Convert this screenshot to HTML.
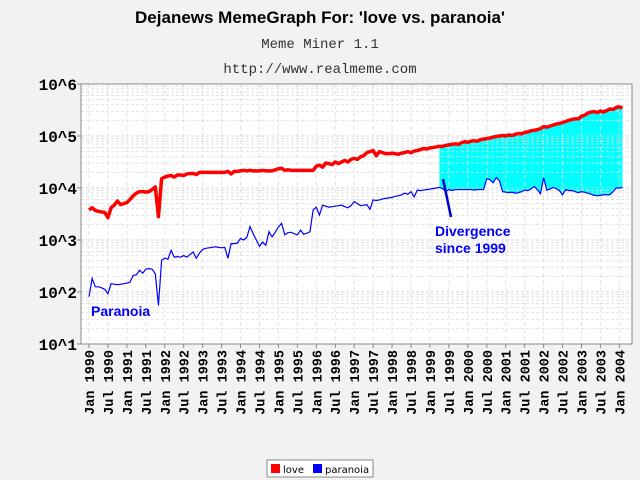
<!DOCTYPE html>
<html><head><meta charset="utf-8"><style>
body{margin:0;background:#f2f2f2;}
svg{display:block;}
</style></head><body>
<svg id="chart" width="640" height="480" xmlns="http://www.w3.org/2000/svg">
<rect x="0" y="0" width="640" height="480" fill="#f2f2f2"/>
<text x="320" y="23" text-anchor="middle" font-family="Liberation Sans, sans-serif" font-weight="bold" font-size="17" fill="#000">Dejanews MemeGraph For: 'love vs. paranoia'</text>
<text x="320" y="48" text-anchor="middle" font-family="Liberation Mono, monospace" font-size="14" fill="#333">Meme Miner 1.1</text>
<text x="320" y="73" text-anchor="middle" font-family="Liberation Mono, monospace" font-size="14" fill="#333">http://www.realmeme.com</text>
<rect x="81" y="84" width="551" height="260" fill="#fff"/>
<g id="fill"></g><g id="grid"></g><g id="series"></g><g id="axes"></g>
<text x="91" y="316" font-family="Liberation Sans, sans-serif" font-weight="bold" font-size="14" fill="#0000ff">Paranoia</text>
<line x1="443" y1="179" x2="451" y2="217" stroke="#0000cc" stroke-width="2.5"/>
<text x="435" y="236" font-family="Liberation Sans, sans-serif" font-weight="bold" font-size="14" fill="#0000ff"><tspan x="435">Divergence</tspan><tspan x="435" dy="17">since 1999</tspan></text>
<g>
<rect x="267" y="460" width="106" height="17" fill="#fff" stroke="#888"/>
<rect x="271" y="464" width="9" height="9" fill="#ff0000"/>
<text x="283" y="473" font-family="DejaVu Sans, sans-serif" font-size="10" fill="#000">love</text>
<rect x="313" y="464" width="9" height="9" fill="#0000ff"/>
<text x="325" y="473" font-family="DejaVu Sans, sans-serif" font-size="10" fill="#000">paranoia</text>
</g>
</svg>
<script>
// log10 monthly values, Jan 1990 .. Feb 2004
const loveLog = [
3.58,3.62,3.57,3.55,3.54,3.53,3.43,3.62,3.67,3.75,3.68,3.70,
3.72,3.78,3.85,3.90,3.93,3.93,3.92,3.93,3.97,4.02,3.45,4.18,
4.21,4.23,4.24,4.21,4.25,4.25,4.24,4.27,4.28,4.28,4.26,4.30,
4.30,4.30,4.30,4.30,4.30,4.30,4.30,4.30,4.32,4.27,4.32,4.32,
4.33,4.34,4.33,4.34,4.33,4.33,4.33,4.34,4.33,4.33,4.33,4.35,
4.37,4.38,4.34,4.35,4.34,4.34,4.34,4.34,4.34,4.34,4.34,4.34,
4.42,4.44,4.40,4.48,4.47,4.45,4.50,4.47,4.50,4.53,4.50,4.55,
4.57,4.55,4.60,4.62,4.68,4.70,4.72,4.62,4.70,4.68,4.66,4.66,
4.67,4.66,4.65,4.67,4.68,4.70,4.68,4.71,4.72,4.74,4.76,4.75,
4.77,4.78,4.79,4.80,4.80,4.82,4.83,4.84,4.85,4.84,4.87,4.89,
4.88,4.90,4.91,4.90,4.93,4.94,4.95,4.96,4.98,4.99,5.00,5.01,
5.00,5.02,5.01,5.03,5.05,5.04,5.07,5.08,5.10,5.11,5.12,5.14,
5.18,5.17,5.19,5.21,5.23,5.24,5.26,5.28,5.30,5.32,5.33,5.33,
5.38,5.40,5.44,5.46,5.47,5.45,5.48,5.46,5.49,5.52,5.51,5.55,
5.56,5.54];
const paranoiaLog = [
1.91,2.26,2.10,2.10,2.08,2.05,1.97,2.16,2.15,2.14,2.15,2.16,
2.17,2.19,2.32,2.33,2.42,2.36,2.44,2.45,2.44,2.35,1.74,2.61,
2.65,2.63,2.80,2.67,2.68,2.67,2.70,2.67,2.72,2.77,2.65,2.75,
2.82,2.84,2.85,2.86,2.87,2.86,2.85,2.86,2.65,2.93,2.93,2.94,
3.03,3.00,3.05,3.26,3.12,3.00,2.88,2.96,2.90,3.16,3.06,3.15,
3.25,3.32,3.10,3.14,3.15,3.12,3.10,3.19,3.11,3.13,3.16,3.58,
3.63,3.48,3.67,3.65,3.63,3.64,3.65,3.66,3.67,3.64,3.62,3.66,
3.74,3.70,3.66,3.67,3.68,3.59,3.77,3.76,3.77,3.79,3.80,3.81,
3.82,3.84,3.85,3.87,3.90,3.88,3.93,3.83,3.96,3.95,3.96,3.97,
3.98,3.99,4.00,4.01,3.99,3.93,3.97,3.95,3.97,3.97,3.97,3.97,
3.97,3.97,3.96,3.97,3.97,3.97,4.18,4.16,4.10,4.20,4.14,3.93,
3.92,3.91,3.92,3.90,3.91,3.93,3.96,3.95,3.98,4.03,3.97,3.89,
4.20,3.96,3.98,4.01,3.99,3.95,3.87,3.97,3.95,3.95,3.93,3.91,
3.93,3.92,3.90,3.88,3.86,3.85,3.86,3.87,3.87,3.87,3.93,4.00,
4.00,4.01];
const tickLabels = ["Jan 1990","Jul 1990","Jan 1991","Jul 1991","Jan 1992","Jul 1992","Jan 1993","Jul 1993","Jan 1994","Jul 1994","Jan 1995","Jul 1995","Jan 1996","Jul 1996","Jan 1997","Jul 1997","Jan 1998","Jul 1998","Jan 1999","Jul 1999","Jan 2000","Jul 2000","Jan 2001","Jul 2001","Jan 2002","Jul 2002","Jan 2003","Jul 2003","Jan 2004"];
const yTickLabels = ["10^1","10^2","10^3","10^4","10^5","10^6"];
const divergenceStart = 111;

const NS="http://www.w3.org/2000/svg";
const L=81,R=632,T=84,B=344;
const x=m=>89+m*3.157;
const y=v=>T+(6-v)*(B-T)/5;
function mk(tag,attrs,parent){const e=document.createElementNS(NS,tag);for(const k in attrs)e.setAttribute(k,attrs[k]);parent.appendChild(e);return e;}
const gFill=document.getElementById('fill'),gGrid=document.getElementById('grid'),gS=document.getElementById('series'),gA=document.getElementById('axes');

const n=Math.min(loveLog.length,paranoiaLog.length);
let pts=[];
for(let m=divergenceStart;m<n;m++)pts.push(x(m)+','+y(loveLog[m]));
for(let m=n-1;m>=divergenceStart;m--)pts.push(x(m)+','+y(paranoiaLog[m]));
const poly=mk('polygon',{points:pts.join(' '),fill:'#00ffff'},gFill);



for(let d=1;d<6;d++){for(let k=1;k<10;k++){const v=d+Math.log10(k);const yy=y(v);
 const ln=mk('line',{x1:L,x2:R,y1:yy,y2:yy,stroke:k===1?'#cccccc':'#dddddd','stroke-width':1,'stroke-dasharray':'3,2',opacity:0.85},gGrid);
 
 }}
tickLabels.forEach((t,i)=>{const xx=x(i*6);
 const ln=mk('line',{x1:xx,x2:xx,y1:T,y2:B,stroke:'#dddddd','stroke-dasharray':'4,3',opacity:0.85},gGrid);
 
 
 const tk=mk('line',{x1:xx,x2:xx,y1:B,y2:B+4,stroke:'#888'},gA);
 
 
 const tx=mk('text',{x:0,y:0,transform:`translate(${xx+5},350) rotate(-90)`,'text-anchor':'end','font-family':'Liberation Mono, monospace','font-weight':'bold','font-size':'13.5',fill:'#000','xml:space':'preserve'},gA);
 tx.textContent=t.replace(' ','  ');
 
 
});
yTickLabels.forEach((t,i)=>{const yy=y(i+1);
 const tk=mk('line',{x1:L-4,x2:L,y1:yy,y2:yy,stroke:'#888'},gA);
 
 
 const tx=mk('text',{x:L-4,y:yy+6,'text-anchor':'end','font-family':'Liberation Mono, monospace','font-weight':'bold','font-size':'16',fill:'#000'},gA);
 tx.textContent=t;
 
 
});
const ax=mk('rect',{x:L,y:T,width:R-L,height:B-T,fill:'none',stroke:'#888'},gA);



const pl=mk('polyline',{points:paranoiaLog.map((v,m)=>x(m)+','+y(v)).join(' '),fill:'none',stroke:'#0000ff','stroke-width':1.2},gS);


const ll=mk('polyline',{points:loveLog.map((v,m)=>x(m)+','+y(v)).join(' '),fill:'none',stroke:'#ff0000','stroke-width':3.5,'stroke-linejoin':'round'},gS);


</script>
</body></html>
